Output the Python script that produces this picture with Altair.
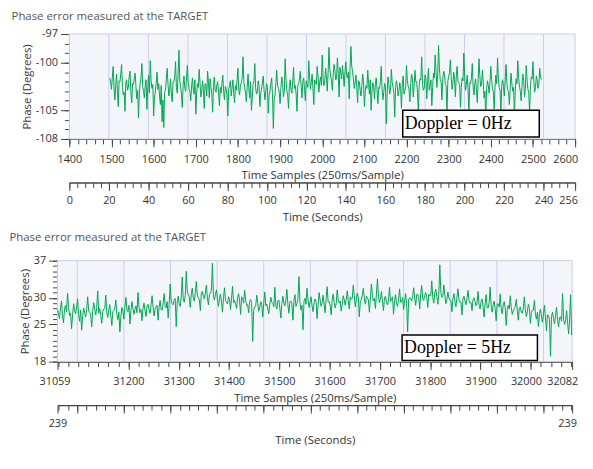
import altair as alt
import pandas as pd

GREEN = "#00a651"
FONT = "Open Sans"
BG = "#f4f5fb"
BORDER = "#c9cde6"
GRID = "#c8ccf0"
AX = "#444444"
LBL = "#333333"

TITLE = "Phase error measured at the TARGET"
Y_TITLE = "Phase (Degrees)"
S_TITLE = "Time Samples (250ms/Sample)"
SEC_TITLE = "Time (Seconds)"

# ---------------- top panel (Doppler = 0Hz) ----------------
top_start = 1496
top_step = 2
top_phase = [
    -101.6,-102.1,-102.8,-101.5,-100.4,-102.7,-103.9,-102.4,-101.2,-103.0,-104.6,-101.9,-102.0,-101.2,-100.2,-102.6,-103.4,-103.1,-105.1,-102.0,-101.8,-102.9,-102.6,-101.4,-100.9,-103.3,-104.2,-102.2,-102.3,-101.7,-101.1,-102.5,
    -103.8,-102.9,-105.8,-103.4,-102.1,-101.6,-100.1,-102.5,-103.0,-103.7,-102.4,-101.8,-104.9,-102.6,-101.3,-103.2,-99.8,-101.9,-102.7,-102.3,-105.6,-103.6,-103.1,-102.1,-101.0,-102.8,-102.2,-103.5,-104.4,-102.4,-106.2,-103.9,
    -106.8,-103.1,-102.9,-101.8,-100.6,-102.2,-103.5,-102.9,-101.7,-103.3,-104.1,-102.0,-102.0,-101.5,-99.9,-102.6,-103.2,-101.2,-98.7,-101.9,-102.5,-103.4,-104.7,-102.3,-101.4,-102.7,-103.0,-101.6,-100.3,-102.1,-102.8,-103.0,
    -104.0,-102.5,-101.6,-102.9,-103.3,-101.8,-105.4,-103.2,-102.2,-102.6,-100.7,-102.1,-103.6,-103.0,-101.9,-102.8,-104.8,-102.2,-102.4,-103.5,-100.9,-102.0,-103.7,-101.7,-102.6,-103.3,-105.2,-102.4,-101.5,-102.9,-103.1,-102.3,
    -102.0,-103.1,-104.5,-102.6,-103.2,-102.2,-101.3,-103.0,-103.9,-102.5,-102.7,-103.4,-105.6,-102.8,-102.4,-101.9,-103.5,-102.7,-101.8,-103.2,-104.2,-102.4,-102.9,-101.8,-100.6,-102.9,-103.4,-102.3,-102.1,-101.6,-99.4,-102.0,
    -102.6,-103.2,-104.1,-102.5,-101.2,-102.8,-103.7,-102.0,-105.0,-103.6,-102.3,-101.9,-100.1,-102.7,-103.3,-103.1,-101.9,-102.4,-104.6,-103.3,-102.8,-102.1,-101.4,-102.9,-103.9,-103.0,-102.2,-102.6,-105.3,-103.4,-103.0,-102.2,
    -101.6,-103.5,-106.9,-103.8,-103.4,-102.1,-100.8,-102.4,-102.7,-103.1,-104.3,-102.6,-101.5,-102.2,-103.6,-103.0,-99.6,-101.8,-102.9,-103.4,-104.8,-102.5,-101.8,-102.9,-103.2,-102.0,-100.5,-102.7,-102.4,-103.2,-105.1,-102.4,
    -102.2,-101.7,-100.9,-102.5,-103.7,-102.0,-101.6,-102.8,-104.0,-101.9,-102.3,-102.6,-99.8,-101.5,-102.8,-102.1,-101.2,-102.7,-104.4,-101.8,-102.0,-102.3,-100.4,-101.4,-103.1,-102.0,-101.5,-102.4,-99.2,-101.6,-102.4,-101.9,
    -100.6,-101.5,-103.0,-101.0,-98.4,-100.7,-101.4,-101.9,-102.9,-101.2,-100.2,-100.8,-101.8,-101.6,-99.5,-101.1,-103.6,-100.5,-101.0,-101.7,-100.3,-101.3,-102.5,-100.9,-99.9,-101.4,-101.6,-101.0,-103.8,-100.6,-98.3,-100.4,
    -100.9,-101.8,-102.7,-102.1,-101.3,-102.6,-104.2,-101.9,-102.0,-102.9,-103.5,-102.4,-101.2,-102.0,-104.6,-103.1,-102.4,-102.7,-100.8,-102.2,-103.3,-101.8,-105.0,-103.0,-102.1,-102.5,-103.8,-102.3,-101.6,-102.8,-104.3,-102.6,
    -102.7,-102.0,-100.4,-102.8,-103.9,-103.1,-102.2,-102.5,-106.4,-103.4,-101.5,-102.3,-103.3,-102.9,-100.7,-102.1,-102.6,-103.2,-105.7,-102.6,-101.9,-102.4,-103.5,-103.0,-102.1,-102.7,-104.8,-102.2,-101.4,-103.3,-103.0,-102.5,
    -100.3,-101.9,-102.5,-102.8,-104.1,-102.2,-101.2,-101.7,-103.6,-102.5,-100.8,-102.0,-102.0,-103.1,-105.2,-102.4,-101.7,-101.8,-99.4,-102.3,-102.9,-102.7,-101.3,-101.6,-103.8,-102.1,-100.6,-102.9,-102.4,-101.8,-104.5,-102.6,
    -101.1,-101.6,-99.2,-100.9,-102.6,-101.3,-98.2,-100.6,-101.8,-102.0,-103.9,-101.7,-100.9,-101.2,-102.3,-102.4,-105.4,-101.9,-101.5,-101.0,-99.7,-101.5,-102.8,-102.2,-101.0,-101.8,-103.6,-101.4,-100.4,-101.9,-102.1,-102.3,
    -104.7,-102.6,-101.6,-101.9,-99.0,-101.5,-102.9,-102.3,-101.3,-102.8,-105.5,-102.1,-102.2,-101.6,-100.1,-102.5,-103.4,-102.2,-101.7,-102.9,-104.2,-101.8,-99.6,-101.4,-102.5,-102.4,-100.8,-102.0,-103.7,-103.0,-105.8,-102.7,
    -101.9,-102.4,-103.2,-102.0,-100.4,-101.8,-102.7,-103.1,-104.9,-102.6,-101.3,-102.2,-99.5,-101.7,-102.6,-102.9,-105.3,-102.3,-101.8,-102.5,-103.5,-101.9,-100.2,-102.1,-102.9,-103.0,-104.4,-102.7,-101.1,-102.2,-103.0,-102.6,
    -105.6,-102.9,-101.7,-102.2,-99.8,-101.6,-102.5,-103.0,-104.0,-102.4,-101.2,-101.9,-103.6,-102.7,-100.3,-101.8,-102.8,-103.1,-105.2,-102.5,-101.5,-101.7,-99.9,-102.0,-103.1,-102.6,-101.4,-101.9,-102.7,-102.3,-100.6,-101.5,
    -101.8,
]
top_samples = [top_start + top_step * i for i in range(len(top_phase))]
top_s_domain = [1400, 2600]
top_s_major = [1400, 1500, 1600, 1700, 1800, 1900, 2000, 2100, 2200, 2300, 2400, 2500, 2600]
top_s_minor = list(range(1400, 2601, 20))
top_sec_domain = [0, 256]
top_sec_major = [0, 20, 40, 60, 80, 100, 120, 140, 160, 180, 200, 220, 240, 256]
top_sec_minor = list(range(0, 257, 4))
top_sec_grid = [20, 40, 60, 80, 100, 120, 140, 160, 180, 200, 220, 240]
top_y_domain = [-108, -97]
top_y_major = [-97, -100, -105, -108]
top_y_minor = list(range(-108, -96))
top_ann = {"label": ["Doppler = 0Hz"], "x1": [2191], "x2": [2515], "y1": [-105.0], "y2": [-107.8]}

# ---------------- bottom panel (Doppler = 5Hz) ----------------
bot_start = 31059
bot_step = 2
bot_phase = [
    27.8,27.0,26.1,28.1,29.4,26.6,25.3,27.9,28.6,27.4,30.9,28.3,26.7,27.1,24.2,26.8,28.9,27.6,27.0,28.4,29.8,26.9,25.6,27.7,23.9,26.5,28.1,27.2,26.4,28.0,30.2,27.5,
    27.3,26.8,24.5,27.6,29.1,27.9,26.8,28.2,31.3,27.1,28.0,26.7,25.2,27.5,27.9,28.0,30.5,27.2,26.3,27.8,28.7,26.6,24.8,27.4,27.6,28.1,29.6,26.9,25.9,27.3,23.6,26.5,
    28.2,27.4,26.0,28.3,30.1,27.7,27.4,28.6,25.1,27.5,29.3,28.0,26.9,27.9,28.5,27.2,31.0,28.4,27.2,27.8,25.7,28.1,29.0,27.6,26.5,28.5,28.8,27.9,27.1,28.7,30.4,28.2,
    26.6,27.9,28.3,28.6,25.8,28.2,29.5,27.8,27.7,29.0,30.8,28.4,28.1,29.3,26.2,28.8,32.6,29.5,28.9,28.7,29.7,29.9,24.6,29.2,30.3,28.9,28.4,30.1,33.9,29.6,29.2,30.4,
    35.0,31.2,30.6,30.1,28.2,30.8,31.8,29.9,29.4,31.0,33.1,30.5,30.0,29.7,27.6,30.9,31.2,30.3,29.8,31.1,32.4,30.0,28.7,30.6,30.9,31.4,36.5,30.2,29.6,30.7,31.5,29.8,
    28.4,29.8,30.7,29.2,27.3,30.1,31.9,29.5,29.1,28.9,30.2,29.7,27.8,30.0,32.2,29.1,29.5,28.8,28.0,29.9,30.8,29.4,26.9,30.2,29.9,29.0,31.4,29.6,28.6,28.7,27.2,29.3,
    29.7,28.9,21.8,27.6,28.3,28.4,30.5,29.1,27.5,28.2,29.3,28.7,26.4,29.0,31.1,28.5,28.8,27.9,27.0,28.8,30.1,29.2,29.0,28.3,32.0,28.6,27.9,29.4,29.6,28.1,26.2,28.9,
    30.3,29.0,28.5,29.6,31.6,28.7,27.1,29.3,29.4,28.9,25.8,29.5,30.6,28.4,28.9,29.8,34.0,29.1,27.7,28.6,24.0,29.4,29.9,28.8,31.8,29.7,28.2,29.2,30.2,28.5,27.4,29.0,
    29.8,29.3,26.1,28.7,31.0,29.6,28.4,29.0,30.5,28.8,27.2,29.9,32.1,29.2,29.3,28.6,26.8,29.5,30.7,29.1,28.1,28.9,31.5,29.7,29.0,29.4,27.5,28.8,30.4,29.6,28.6,29.8,
    31.3,29.5,27.9,30.2,29.7,29.9,32.4,30.4,28.3,29.7,30.9,30.1,26.4,29.4,29.6,30.6,31.8,29.8,28.8,30.3,30.1,29.6,27.3,30.0,32.6,30.5,29.4,29.9,28.0,30.7,33.6,30.2,
    29.1,29.8,31.2,29.4,27.6,30.0,30.3,29.1,28.7,29.6,32.0,29.3,29.8,30.2,26.9,29.5,30.6,28.9,28.4,29.7,31.7,29.2,29.2,30.1,27.8,29.4,30.8,29.0,23.6,29.6,30.0,29.9,
    29.4,30.3,31.9,30.0,28.6,30.6,30.7,30.2,27.9,30.8,32.3,29.9,29.5,30.5,31.0,30.1,28.2,30.7,30.4,30.4,33.2,30.0,29.0,30.9,31.6,30.3,28.8,30.6,36.2,31.0,30.1,30.4,
    32.4,30.4,28.9,29.7,31.1,30.0,29.6,29.5,27.4,29.9,30.8,29.3,28.3,30.1,31.7,29.6,29.2,29.2,26.8,29.8,30.3,29.4,28.7,29.9,31.4,29.5,29.0,29.1,27.6,29.7,30.0,29.3,
    28.5,29.0,31.2,28.6,27.9,29.3,29.8,28.4,26.4,28.9,30.6,28.2,28.1,29.1,32.0,28.5,27.3,28.7,29.4,28.0,25.7,28.8,28.9,28.3,30.7,27.9,27.0,28.6,29.3,28.1,24.8,27.8,
    28.6,27.9,30.4,28.2,26.9,27.5,28.0,28.4,29.7,27.6,25.8,28.0,28.3,27.3,27.1,28.1,30.2,27.8,26.5,27.4,28.8,28.0,25.2,27.2,27.7,27.7,29.5,26.9,26.0,27.3,24.6,27.0,
    27.9,26.6,25.4,27.0,28.6,26.2,23.8,26.8,26.7,25.9,19.0,26.5,27.3,26.1,25.1,26.7,28.2,25.8,24.5,26.3,26.4,25.6,30.8,26.0,25.0,25.7,27.6,25.3,23.2,26.0,30.6,23.0,
]
bot_samples = [bot_start + bot_step * i for i in range(len(bot_phase))]
bot_s_domain = [31059, 32082]
bot_s_major = [31059, 31200, 31300, 31400, 31500, 31600, 31700, 31800, 31900, 32000, 32082]
bot_s_minor = list(range(31060, 32082, 20))
# seconds ruler: 11.04 ruler units span the panel, grid every unit from 0.425
bot_sec_domain = [0, 11.04]
bot_sec_grid = [round(0.425 + k, 3) for k in range(11)]
bot_sec_major = [0] + bot_sec_grid + [11.04]
bot_sec_minor = [round(0.025 + 0.2 * k, 3) for k in range(56)]
bot_sec_label_pos = [0, 11.04]
bot_sec_label = "239"
bot_y_domain = [18, 37]
bot_y_major = [37, 30, 25, 18]
bot_y_minor = list(range(18, 38))
bot_ann = {"label": ["Doppler = 5Hz"], "x1": [31744], "x2": [32013], "y1": [23.0], "y2": [18.2]}


def to_samples(vals, sec_dom, s_dom):
    k = (s_dom[1] - s_dom[0]) / (sec_dom[1] - sec_dom[0])
    return [s_dom[0] + (v - sec_dom[0]) * k for v in vals]


def label_shift(shifts):
    # shifts: list of (sample_value, pixel_offset) for labels nudged inwards
    return {"condition": [{"test": "abs(datum.value - %s) < 0.5" % v, "value": off}
                          for v, off in shifts], "value": 0}


def panel(samples, phase, s_dom, s_major, s_minor, sec_dom, sec_major, sec_minor,
          sec_grid, sec_labels, y_dom, y_major, y_minor, ann, w, h, shift,
          title_offset, sec_axis_offset, s_shifts, sec_shifts):
    df = pd.DataFrame({"sample": samples, "phase": phase})
    ys = alt.Scale(domain=y_dom, nice=False, zero=False)
    xs = alt.Scale(domain=s_dom, range=[-shift, w - shift], nice=False, zero=False)

    grid_s = to_samples(sec_grid, sec_dom, s_dom)
    major_s = to_samples(sec_major, sec_dom, s_dom)
    minor_s = to_samples(sec_minor, sec_dom, s_dom)
    keys = [round(p, 4) for p in major_s]
    sec_expr = ("indexof(%s, round(datum.value * 10000) / 10000) >= 0 ? "
                "%s[indexof(%s, round(datum.value * 10000) / 10000)] : ''") % (
        str(keys), str(sec_labels), str(keys))
    sec_shift_px = [(major_s[sec_major.index(v)], off) for v, off in sec_shifts]

    def xghost(values, axis):
        d = pd.DataFrame({"v": values, "c": [y_dom[0]] * len(values)})
        return alt.Chart(d).mark_point(opacity=0, size=1).encode(
            x=alt.X("v:Q", scale=xs, axis=axis),
            y=alt.Y("c:Q", scale=ys, axis=None))

    def yghost(values, axis):
        d = pd.DataFrame({"v": values, "c": [s_dom[0]] * len(values)})
        return alt.Chart(d).mark_point(opacity=0, size=1).encode(
            y=alt.Y("v:Q", scale=ys, axis=axis),
            x=alt.X("c:Q", scale=xs, axis=None))

    frame_df = pd.DataFrame({"x1": [s_dom[0]], "x2": [s_dom[1]], "y1": [y_dom[0]], "y2": [y_dom[1]]})
    frame = alt.Chart(frame_df).mark_rect(fill=BG, stroke=BORDER, strokeWidth=1).encode(
        x=alt.X("x1:Q", scale=xs, axis=None), x2="x2:Q",
        y=alt.Y("y1:Q", scale=ys, axis=None), y2="y2:Q")

    grid_df = pd.DataFrame({"g": grid_s, "y1": [y_dom[0]] * len(grid_s), "y2": [y_dom[1]] * len(grid_s)})
    grid = alt.Chart(grid_df).mark_rule(color=GRID, strokeWidth=1).encode(
        x=alt.X("g:Q", scale=xs, axis=None),
        y=alt.Y("y1:Q", scale=ys, axis=None), y2="y2:Q")

    line = alt.Chart(df).mark_line(color=GREEN, strokeWidth=1).encode(
        x=alt.X("sample:Q", scale=xs, axis=alt.Axis(
            orient="bottom", values=s_major, tickSize=8, labelExpr="'' + datum.value",
            labelFlush=False, labelOverlap=False, labelPadding=6.5, title=S_TITLE,
            labelOffset=label_shift(s_shifts), titlePadding=5.5, grid=False)),
        y=alt.Y("phase:Q", scale=ys, axis=alt.Axis(
            orient="left", offset=shift, values=y_major, tickSize=9,
            labelExpr="'' + datum.value", labelPadding=3, labelOverlap=False,
            title=Y_TITLE, titlePadding=3, grid=False)))

    sminor = xghost(s_minor, alt.Axis(
        orient="bottom", values=s_minor, tickSize=5, labels=False, title=None, grid=False))

    yminor = yghost(y_minor, alt.Axis(
        orient="left", offset=shift, values=y_minor, tickSize=5, labels=False,
        title=None, grid=False))

    secmaj = xghost(major_s, alt.Axis(
        orient="bottom", offset=sec_axis_offset, values=major_s, tickSize=8,
        labelExpr=sec_expr, labelFlush=False, labelOverlap=False, labelPadding=4.5,
        title=SEC_TITLE, labelOffset=label_shift(sec_shift_px), titlePadding=6, grid=False))

    secmin = xghost(minor_s, alt.Axis(
        orient="bottom", offset=sec_axis_offset, values=minor_s, tickSize=5, labels=False,
        title=None, grid=False))

    adf = pd.DataFrame(ann)
    adf["ym"] = (adf["y1"] + adf["y2"]) / 2
    box = alt.Chart(adf).mark_rect(fill="white", stroke="black", strokeWidth=1.5).encode(
        x=alt.X("x1:Q", scale=xs, axis=None), x2="x2:Q",
        y=alt.Y("y1:Q", scale=ys, axis=None), y2="y2:Q")
    txt = alt.Chart(adf).mark_text(align="left", baseline="middle", font="Liberation Serif",
                                   fontSize=18, dx=2, color="black").encode(
        x=alt.X("x1:Q", scale=xs, axis=None),
        y=alt.Y("ym:Q", scale=ys, axis=None),
        text="label:N")

    return alt.layer(frame, grid, line, sminor, yminor, secmaj, secmin, box, txt).resolve_axis(
        x="independent", y="independent").properties(
        width=w - shift, height=h,
        title=alt.TitleParams(TITLE, anchor="start", frame="bounds", dx=-10, offset=title_offset,
                              fontSize=11.5, color="#555555", font=FONT, fontWeight="normal"))


top_sec_labels = [str(v) for v in top_sec_major]
top = panel(top_samples, top_phase, top_s_domain, top_s_major, top_s_minor,
            top_sec_domain, top_sec_major, top_sec_minor, top_sec_grid,
            top_sec_labels, top_y_domain, top_y_major, top_y_minor, top_ann,
            511, 106, 0, 6, 44, [(2600, -10)], [(256, -7)])

bot_sec_labels = [bot_sec_label if v in bot_sec_label_pos else "" for v in bot_sec_major]
bot = panel(bot_samples, bot_phase, bot_s_domain, bot_s_major, bot_s_minor,
            bot_sec_domain, bot_sec_major, bot_sec_minor, bot_sec_grid,
            bot_sec_labels, bot_y_domain, bot_y_major, bot_y_minor, bot_ann,
            520, 102, 12, 11, 44, [(31059, -3), (32000, -5), (32082, -10)], [(11.04, -5)])

chart = alt.concat(top, bot, columns=1, spacing=8, align="none").properties(
    padding={"left": 0, "top": 0, "right": 0, "bottom": 0}
).configure(font=FONT).configure_view(fill="transparent", stroke="transparent").configure_axis(
    domainColor=AX, tickColor=AX, labelColor=LBL, titleColor=LBL, labelFont=FONT,
    titleFont=FONT, labelFontSize=11, titleFontSize=11.5, titleFontWeight="normal",
    domainWidth=1, tickWidth=1)

chart.save("out.html", embed_options={"renderer": "svg", "actions": False})
